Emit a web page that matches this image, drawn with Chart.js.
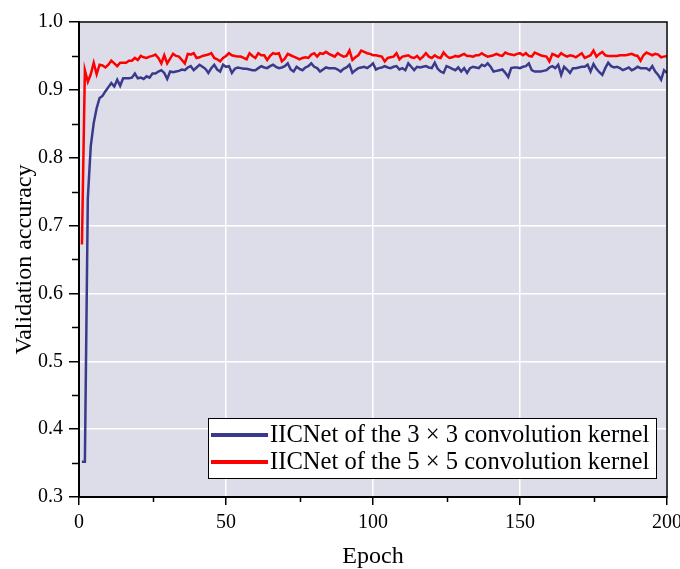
<!DOCTYPE html>
<html lang="en">
<head>
    <meta charset="UTF-8">
    <title>Validation accuracy</title>
    <script src="https://cdn.jsdelivr.net/npm/chart.js"></script>
    <style>
        body {
            margin: 0;
            padding: 0;
            background-color: #ffffff;
        }
        canvas {
            display: block;
        }
    </style>
</head>
<body>
    <canvas id="accChart" width="680" height="569"></canvas>

    <script>
        // epochs 1..200 (category sequence for the x axis)
        const epochs = Array.from({ length: 200 }, (_, i) => i + 1);

        // IICNet, 3 x 3 kernel
        const acc3x3 = [
            0.352, 0.352, 0.740, 0.817, 0.851, 0.873, 0.888, 0.891, 0.898, 0.904,
            0.910, 0.905, 0.915, 0.906, 0.917, 0.917, 0.917, 0.918, 0.924, 0.917,
            0.918, 0.916, 0.920, 0.918, 0.924, 0.924, 0.927, 0.929, 0.925, 0.916,
            0.927, 0.926, 0.927, 0.928, 0.930, 0.929, 0.933, 0.935, 0.929, 0.933,
            0.937, 0.934, 0.931, 0.925, 0.932, 0.937, 0.930, 0.927, 0.937, 0.934,
            0.935, 0.925, 0.931, 0.933, 0.932, 0.931, 0.931, 0.930, 0.929, 0.929,
            0.932, 0.935, 0.933, 0.932, 0.935, 0.937, 0.934, 0.932, 0.933, 0.935,
            0.939, 0.930, 0.927, 0.934, 0.931, 0.929, 0.933, 0.935, 0.939, 0.934,
            0.932, 0.927, 0.930, 0.933, 0.932, 0.932, 0.932, 0.930, 0.927, 0.931,
            0.933, 0.937, 0.925, 0.929, 0.932, 0.933, 0.934, 0.932, 0.935, 0.939,
            0.930, 0.932, 0.933, 0.935, 0.933, 0.932, 0.934, 0.935, 0.930, 0.932,
            0.929, 0.939, 0.934, 0.929, 0.934, 0.933, 0.934, 0.935, 0.933, 0.932,
            0.940, 0.931, 0.927, 0.925, 0.935, 0.933, 0.931, 0.929, 0.933, 0.927,
            0.932, 0.925, 0.932, 0.934, 0.933, 0.932, 0.937, 0.935, 0.939, 0.934,
            0.927, 0.928, 0.929, 0.930, 0.925, 0.919, 0.932, 0.933, 0.933, 0.932,
            0.934, 0.935, 0.939, 0.929, 0.927, 0.927, 0.927, 0.928, 0.929, 0.933,
            0.935, 0.932, 0.937, 0.922, 0.934, 0.930, 0.925, 0.932, 0.932, 0.933,
            0.934, 0.934, 0.937, 0.927, 0.938, 0.931, 0.926, 0.922, 0.932, 0.940,
            0.935, 0.933, 0.934, 0.932, 0.929, 0.931, 0.933, 0.929, 0.931, 0.934,
            0.932, 0.932, 0.932, 0.929, 0.935, 0.927, 0.922, 0.915, 0.929, 0.925
        ];

        // IICNet, 5 x 5 kernel
        const acc5x5 = [
            0.672, 0.929, 0.912, 0.923, 0.940, 0.923, 0.937, 0.936, 0.933, 0.937,
            0.943, 0.939, 0.935, 0.940, 0.940, 0.940, 0.943, 0.943, 0.947, 0.944,
            0.950, 0.948, 0.947, 0.949, 0.950, 0.952, 0.947, 0.939, 0.951, 0.939,
            0.946, 0.953, 0.950, 0.949, 0.944, 0.939, 0.953, 0.952, 0.954, 0.947,
            0.948, 0.950, 0.951, 0.952, 0.954, 0.947, 0.945, 0.942, 0.947, 0.950,
            0.954, 0.951, 0.950, 0.949, 0.949, 0.947, 0.945, 0.954, 0.950, 0.947,
            0.954, 0.951, 0.951, 0.944, 0.950, 0.954, 0.953, 0.954, 0.942, 0.946,
            0.953, 0.951, 0.949, 0.947, 0.945, 0.947, 0.948, 0.947, 0.952, 0.954,
            0.949, 0.954, 0.953, 0.956, 0.953, 0.951, 0.949, 0.954, 0.951, 0.949,
            0.950, 0.958, 0.944, 0.948, 0.951, 0.958, 0.956, 0.954, 0.953, 0.951,
            0.951, 0.950, 0.949, 0.942, 0.947, 0.948, 0.949, 0.954, 0.945, 0.949,
            0.950, 0.951, 0.948, 0.947, 0.950, 0.945, 0.949, 0.954, 0.949, 0.947,
            0.951, 0.948, 0.947, 0.955, 0.950, 0.947, 0.948, 0.950, 0.949, 0.951,
            0.953, 0.950, 0.950, 0.949, 0.951, 0.951, 0.954, 0.951, 0.949, 0.950,
            0.951, 0.953, 0.951, 0.950, 0.955, 0.953, 0.952, 0.951, 0.953, 0.954,
            0.951, 0.954, 0.950, 0.949, 0.955, 0.953, 0.951, 0.950, 0.949, 0.942,
            0.953, 0.951, 0.949, 0.954, 0.951, 0.949, 0.951, 0.950, 0.948, 0.951,
            0.954, 0.947, 0.949, 0.951, 0.958, 0.949, 0.953, 0.956, 0.951, 0.950,
            0.950, 0.950, 0.950, 0.951, 0.951, 0.951, 0.952, 0.953, 0.951, 0.950,
            0.943, 0.951, 0.955, 0.953, 0.951, 0.953, 0.952, 0.948, 0.949, 0.950
        ];

        const seriesNames = [
            'IICNet of the 3 \u00d7 3 convolution kernel',
            'IICNet of the 5 \u00d7 5 convolution kernel'
        ];
        const seriesColors = ['#3a3a8c', '#ff0000'];

        const xMinorTicks = [25, 75, 125, 175];
        const yMinorTicks = [0.35, 0.45, 0.55, 0.65, 0.75, 0.85, 0.95];

        const serif = "'Liberation Serif', 'Times New Roman', serif";

        // lavender plot background
        const plotBackground = {
            id: 'plotBackground',
            beforeDraw(chart) {
                const { ctx, chartArea: a } = chart;
                ctx.save();
                ctx.fillStyle = '#dddde9';
                ctx.fillRect(a.left, a.top, a.right - a.left, a.bottom - a.top);
                ctx.restore();
            }
        };

        // minor ticks, frame and the boxed legend inside the plot
        const frameAndLegend = {
            id: 'frameAndLegend',
            afterDraw(chart) {
                const { ctx, chartArea: a, scales } = chart;
                ctx.save();
                ctx.strokeStyle = '#000';
                ctx.lineWidth = 1.5;
                ctx.beginPath();
                xMinorTicks.forEach(v => {
                    const px = Math.round(scales.x.getPixelForValue(v)) + 0.5;
                    ctx.moveTo(px, a.bottom);
                    ctx.lineTo(px, a.bottom + 5);
                });
                yMinorTicks.forEach(v => {
                    const py = Math.round(scales.y.getPixelForValue(v)) + 0.5;
                    ctx.moveTo(a.left, py);
                    ctx.lineTo(a.left - 7, py);
                });
                ctx.stroke();

                ctx.lineWidth = 1.5;
                ctx.strokeRect(a.left, a.top, a.right - a.left, a.bottom - a.top);

                // legend
                const boxR = a.right - 11;
                const boxL = 208;
                const boxB = a.bottom - 19;
                const boxT = boxB - 60;
                ctx.fillStyle = '#ffffff';
                ctx.fillRect(boxL, boxT, boxR - boxL, boxB - boxT);
                ctx.lineWidth = 1;
                ctx.strokeStyle = '#000';
                ctx.strokeRect(boxL + 0.5, boxT + 0.5, boxR - boxL, boxB - boxT);

                ctx.font = '24.6px ' + serif;
                ctx.textBaseline = 'middle';
                ctx.textAlign = 'left';
                seriesNames.forEach((name, i) => {
                    const cy = boxT + 17 + i * 27;
                    ctx.strokeStyle = seriesColors[i];
                    ctx.lineWidth = 4;
                    ctx.beginPath();
                    ctx.moveTo(boxL + 3, cy);
                    ctx.lineTo(boxL + 60, cy);
                    ctx.stroke();
                    ctx.fillStyle = '#000';
                    ctx.fillText(name, boxL + 62, cy + 1);
                });
                ctx.restore();
            }
        };

        const ctx = document.getElementById('accChart').getContext('2d');
        const accChart = new Chart(ctx, {
            type: 'line',
            data: {
                labels: epochs,
                datasets: [{
                    label: seriesNames[0],
                    data: acc3x3,
                    borderColor: seriesColors[0],
                    borderWidth: 2.5,
                    pointRadius: 0,
                    tension: 0,
                    fill: false
                }, {
                    label: seriesNames[1],
                    data: acc5x5,
                    borderColor: seriesColors[1],
                    borderWidth: 2.5,
                    pointRadius: 0,
                    tension: 0,
                    fill: false
                }]
            },
            options: {
                responsive: false,
                animation: false,
                layout: {
                    padding: { top: 22, right: 13, left: 0, bottom: 0 }
                },
                plugins: {
                    legend: { display: false },
                    tooltip: { enabled: false }
                },
                scales: {
                    x: {
                        type: 'linear',
                        min: 0,
                        max: 200,
                        afterFit: scale => {
                            scale.height = 72;
                            scale.paddingLeft = 0;
                            scale.paddingRight = 0;
                        },
                        border: { color: '#000', width: 2 },
                        grid: {
                            color: '#ffffff',
                            lineWidth: 1.5,
                            tickColor: '#000',
                            tickLength: 8,
                            tickWidth: 1.5
                        },
                        ticks: {
                            stepSize: 50,
                            padding: 6,
                            color: '#000',
                            maxRotation: 0,
                            font: { family: serif, size: 20 }
                        },
                        title: {
                            display: true,
                            text: 'Epoch',
                            color: '#000',
                            padding: { top: 0, bottom: 0 },
                            font: { family: serif, size: 24, lineHeight: 1 }
                        }
                    },
                    y: {
                        min: 0.3,
                        max: 1.0,
                        afterFit: scale => { scale.width = 79; },
                        border: { color: '#000', width: 2 },
                        grid: {
                            color: '#ffffff',
                            lineWidth: 1.5,
                            tickColor: '#000',
                            tickLength: 10,
                            tickWidth: 1.5
                        },
                        ticks: {
                            stepSize: 0.1,
                            padding: 6,
                            color: '#000',
                            font: { family: serif, size: 20 },
                            callback: v => v.toFixed(1)
                        },
                        title: {
                            display: true,
                            text: 'Validation accuracy',
                            color: '#000',
                            padding: { top: 13, bottom: 0 },
                            font: { family: serif, size: 24, lineHeight: 1 }
                        }
                    }
                }
            },
            plugins: [plotBackground, frameAndLegend]
        });
    </script>
</body>
</html>
